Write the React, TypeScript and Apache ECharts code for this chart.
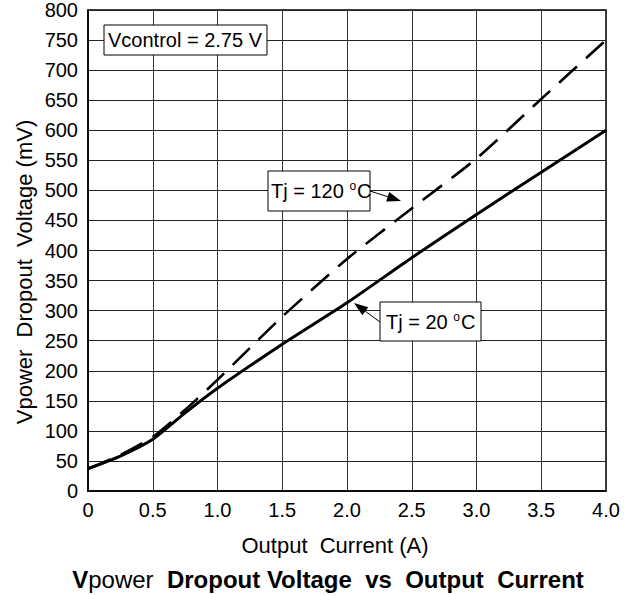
import React, { useEffect, useRef } from "react";
import * as echarts from "echarts";

const currentA = [0, 0.25, 0.5, 0.75, 1.0, 1.5, 2.0, 2.5, 3.0, 3.5, 4.0];
const dropout20C = [37, 58, 86, 130, 171, 244, 313, 388, 460, 530, 600];
const dropout120C = [37, 60, 90, 135, 185, 290, 386, 470, 553, 652, 750];
const xTickLabels = ["0", "0.5", "1.0", "1.5", "2.0", "2.5", "3.0", "3.5", "4.0"];
const yTickLabels = ["0", "50", "100", "150", "200", "250", "300", "350", "400", "450", "500", "550", "600", "650", "700", "750", "800"];

const FONT = "'Liberation Sans', Arial, sans-serif";

function arrow(tail: number[], tip: number[], len = 14, half = 5) {
  const dx = tip[0] - tail[0];
  const dy = tip[1] - tail[1];
  const L = Math.sqrt(dx * dx + dy * dy);
  const ux = dx / L, uy = dy / L;
  const bx = tip[0] - len * ux, by = tip[1] - len * uy;
  const px = -uy * half, py = ux * half;
  return [
    { type: "line", shape: { x1: tail[0], y1: tail[1], x2: bx, y2: by }, style: { stroke: "#000", lineWidth: 1 }, z: 20 },
    { type: "polygon", shape: { points: [[tip[0], tip[1]], [bx + px, by + py], [bx - px, by - py]] }, style: { fill: "#000" }, z: 20 },
  ];
}

function box(x: number, y: number, w: number, h: number, rich: any, text: string, tx: number) {
  return [
    { type: "rect", shape: { x, y, width: w, height: h }, style: { fill: "#fff", stroke: "#000", lineWidth: 1 }, z: 20 },
    {
      type: "text", x: tx, y: y + h / 2, z: 21,
      style: { text, rich, font: `20px ${FONT}`, fill: "#000", verticalAlign: "middle", align: "left" },
    },
  ];
}

export default function App() {
  const ref = useRef<HTMLDivElement>(null);
  useEffect(() => {
    if (!ref.current) return;
    const chart = echarts.init(ref.current, undefined, { renderer: "svg" });
    const tjRich = {
      n: { fontSize: 20, fontFamily: FONT, color: "#000" },
      s: { fontSize: 12, fontFamily: FONT, color: "#000", verticalAlign: "top", padding: [0, 1, 10, 0] },
    };
    chart.setOption({
      animation: false,
      backgroundColor: "#fff",
      grid: { left: 88, right: 24, top: 10, bottom: 104, show: true, borderColor: "#000", borderWidth: 1.5, containLabel: false },
      xAxis: {
        type: "value", min: 0, max: 4, interval: 0.5,
        axisLine: { show: true, lineStyle: { color: "#000", width: 1.5 } },
        axisTick: { show: false },
        splitLine: { show: true, lineStyle: { color: "#333", width: 1 } },
        axisLabel: {
          margin: 9, fontSize: 20, fontFamily: FONT, color: "#000",
          formatter: (v: number) => xTickLabels[Math.round(v / 0.5)] ?? String(v),
        },
      },
      yAxis: {
        type: "value", min: 0, max: 800, interval: 50,
        axisLine: { show: true, lineStyle: { color: "#000", width: 1.5 } },
        axisTick: { show: false },
        splitLine: { show: true, lineStyle: { color: "#222", width: 1 } },
        axisLabel: {
          margin: 10, fontSize: 20, fontFamily: FONT, color: "#000",
          formatter: (v: number) => yTickLabels[Math.round(v / 50)] ?? String(v),
        },
      },
      series: [
        {
          name: "Tj = 20 °C", type: "line", symbol: "none", smooth: 0.2,
          data: currentA.map((x, i) => [x, dropout20C[i]]),
          lineStyle: { color: "#000", width: 3 }, z: 5,
        },
        {
          name: "Tj = 120 °C", type: "line", symbol: "none", smooth: 0.2,
          data: currentA.map((x, i) => [x, dropout120C[i]]),
          lineStyle: { color: "#000", width: 2.6, type: [24, 12] }, z: 4,
        },
      ],
      graphic: [
        ...box(104, 25, 163, 30, {}, "Vcontrol = 2.75 V", 108),
        ...box(268, 171, 102, 40, tjRich, "{n|Tj = 120 }{s|o}{n|C}", 271),
        ...box(380, 302, 101, 39, tjRich, "{n|Tj = 20 }{s|o}{n|C}", 386),
        ...arrow([370, 191], [401, 201]),
        ...arrow([380, 322], [354, 303]),
        {
          type: "text", x: 335, y: 545,
          style: { text: "Output  Current (A)", font: `22px ${FONT}`, fill: "#000", align: "center", verticalAlign: "middle" },
        },
        {
          type: "text", x: 24, y: 272, rotation: Math.PI / 2,
          style: { text: "Vpower  Dropout  Voltage (mV)", font: `22px ${FONT}`, fill: "#000", align: "center", verticalAlign: "middle" },
        },
        {
          type: "text", x: 328, y: 579,
          style: {
            text: "{b|V}{n|power}{b|  Dropout Voltage  vs  Output  Current}",
            align: "center", verticalAlign: "middle",
            rich: {
              b: { fontSize: 24, fontWeight: "bold", fontFamily: FONT, color: "#000" },
              n: { fontSize: 24, fontFamily: FONT, color: "#000" },
            },
          },
        },
      ],
    });
    return () => chart.dispose();
  }, []);
  return <div ref={ref} style={{ position: "fixed", left: 0, top: 0, width: 630, height: 595 }} />;
}
